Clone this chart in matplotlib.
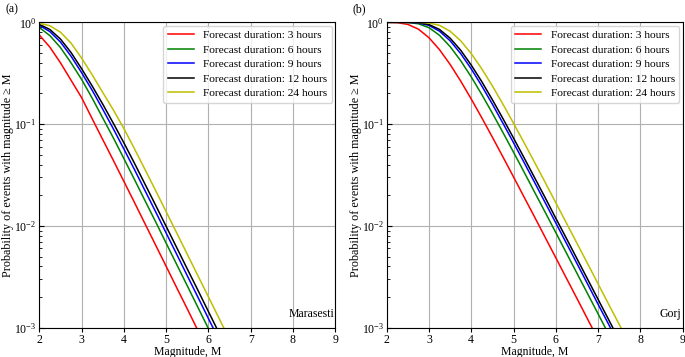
import numpy as np
import matplotlib
matplotlib.use("Agg")
import matplotlib.pyplot as plt

plt.rcParams['font.family'] = ['Liberation Serif', 'DejaVu Serif']
plt.rcParams['mathtext.fontset'] = 'stix'

mag_a = [2, 2.25, 2.5, 2.75, 3, 3.25, 3.5, 3.75, 4, 4.25, 4.5, 4.75,
         5, 5.25, 5.5, 5.75, 6, 6.25, 6.5]
mag_b = [2, 2.25, 2.5, 2.75, 3, 3.25, 3.5, 3.75, 4, 4.25, 4.5, 4.75,
         5, 5.25, 5.5, 5.75, 6, 6.25, 6.5, 6.75, 7, 7.25, 7.5, 7.75]

durations = ['3 hours', '6 hours', '9 hours', '12 hours', '24 hours']
colors = ['r', 'g', 'b', 'k', 'y']

# (a) Marasesti
marasesti_3h = [0.75, 0.57, 0.40, 0.27, 0.182, 0.113, 0.0705, 0.0441, 0.0274, 0.0170,
                0.0105, 0.00649, 0.00401, 0.00247, 0.00153, 0.00094, 0.00058]
marasesti_6h = [0.89, 0.74, 0.565, 0.40, 0.275, 0.18, 0.115, 0.0734, 0.0459, 0.0286,
                0.0177, 0.0110, 0.00677, 0.00418, 0.00258, 0.00159, 0.00098, 0.000605]
marasesti_9h = [0.935, 0.81, 0.64, 0.465, 0.32, 0.215, 0.14, 0.0900, 0.0570, 0.0358,
                0.0222, 0.0138, 0.00851, 0.00526, 0.00324, 0.00200, 0.00123, 0.000761]
marasesti_12h = [0.955, 0.85, 0.685, 0.505, 0.350, 0.237, 0.157, 0.102, 0.0655, 0.0413,
                 0.0257, 0.0160, 0.00990, 0.00612, 0.00378, 0.00234, 0.00144, 0.00089]
marasesti_24h = [0.98, 0.925, 0.80, 0.625, 0.445, 0.305, 0.205, 0.138, 0.0905, 0.0573,
                 0.0358, 0.0223, 0.0138, 0.00853, 0.00527, 0.00325, 0.00201, 0.00124, 0.000764]

# (b) Gorj
gorj_3h = [1.0, 0.992, 0.954, 0.857, 0.706, 0.538, 0.386, 0.265, 0.1765, 0.1153,
           0.0744, 0.0476, 0.0303, 0.0192, 0.0122, 0.0077, 0.00487, 0.00307, 0.00194,
           0.00122, 0.00077]
gorj_6h = [1.0, 0.9998, 0.9957, 0.968, 0.886, 0.745, 0.578, 0.420, 0.291, 0.195,
           0.128, 0.0827, 0.0530, 0.0338, 0.0214, 0.0136, 0.00860, 0.00543, 0.00343,
           0.00217, 0.00137, 0.000863]
gorj_9h = [1.0, 1.0, 0.9989, 0.986, 0.933, 0.818, 0.659, 0.493, 0.349, 0.237,
           0.157, 0.102, 0.0657, 0.0420, 0.0267, 0.0169, 0.0107, 0.00677, 0.00428,
           0.00270, 0.00170, 0.00108, 0.000679]
gorj_12h = [1.0, 1.0, 0.9995, 0.992, 0.951, 0.851, 0.699, 0.532, 0.380, 0.261,
            0.1735, 0.1133, 0.0730, 0.0467, 0.0297, 0.0189, 0.0119, 0.00756, 0.00477,
            0.00301, 0.00190, 0.00120, 0.000758]
gorj_24h = [1.0, 1.0, 1.0, 0.9989, 0.986, 0.933, 0.818, 0.659, 0.493, 0.349,
            0.237, 0.157, 0.102, 0.0657, 0.0420, 0.0267, 0.0169, 0.0107, 0.00677,
            0.00428, 0.00270, 0.00170, 0.00108, 0.000679]

panels = [
    ('(a)', 'Marasesti', mag_a,
     [marasesti_3h, marasesti_6h, marasesti_9h, marasesti_12h, marasesti_24h]),
    ('(b)', 'Gorj', mag_b, [gorj_3h, gorj_6h, gorj_9h, gorj_12h, gorj_24h]),
]


def main():
    fig = plt.figure(figsize=(6.85, 3.57), dpi=100)
    lefts = [0.0574, 0.5645]
    for left, (tag, site, mags, series) in zip(lefts, panels):
        ax = fig.add_axes([left, 0.0821, 0.432, 0.8554])
        for vals, dur, col in zip(series, durations, colors):
            ax.plot(mags[:len(vals)], vals, color=col, lw=1.1,
                    label='Forecast duration: ' + dur)
        ax.set_yscale('log')
        ax.set_xlim(2, 9)
        ax.set_ylim(1e-3, 1)
        ax.set_xticks(range(2, 10))
        ax.grid(True, which='major', color='#b0b0b0', lw=0.8)
        ax.tick_params(axis='y', which='both', direction='in', labelsize=8.5, pad=2)
        ax.tick_params(axis='x', labelsize=8.5, pad=1.5, length=3)
        ax.set_xlabel('Magnitude, M', fontsize=8.5, labelpad=0)
        ax.set_ylabel('Probability of events with magnitude \u2265 M', fontsize=8.7, labelpad=0)
        ax.legend(loc='upper right', fontsize=8.2, handlelength=2.3,
                  borderaxespad=0.3, labelspacing=0.4)
        ax.text(0.997, 0.025, site, transform=ax.transAxes, ha='right', va='bottom',
                fontsize=8.5)
        fig.text(left - 0.05, 0.99, tag, ha='left', va='top', fontsize=8.5)

    fig.savefig('out.png', dpi=100)


if __name__ == '__main__':
    main()
